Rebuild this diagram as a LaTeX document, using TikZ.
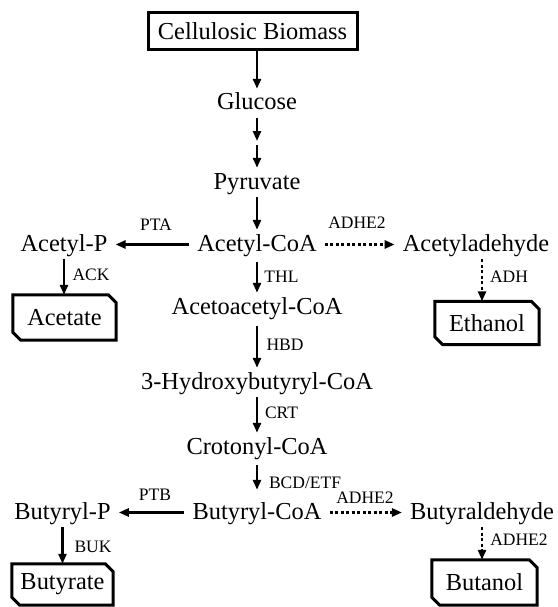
\documentclass[tikz,border=0pt]{standalone}
\usepackage{fontspec}
\setmainfont{Liberation Serif}
\usetikzlibrary{arrows.meta}
\newcommand\chamfbox[1]{\draw[boxline] (#1.north west) -- ([xshift=-8pt]#1.north east) -- ([yshift=-8pt]#1.north east) -- (#1.south east) -- ([xshift=8pt]#1.south west) -- ([yshift=8pt]#1.south west) -- cycle;}
\tikzset{
  met/.style={font=\fontsize{24.4pt}{28pt}\selectfont, inner xsep=8pt, inner ysep=1pt, text height=20pt, text depth=7pt},
  lbl/.style={font=\fontsize{17.5pt}{20pt}\selectfont, inner sep=0pt},
  arr/.style={line width=2.5pt, -{Triangle[length=10pt,width=8pt]}},
  dotarr/.style={arr, dash pattern=on 3pt off 2.5pt},
  prodbox/.style={font=\fontsize{24.4pt}{28pt}\selectfont, inner sep=0pt},
  boxline/.style={line width=3pt, line join=miter},
}
\begin{document}
\begin{tikzpicture}[x=1pt, y=-1pt]
\useasboundingbox (0,0) rectangle (557,607);
% source box
\node[prodbox, draw, line width=3pt, minimum width=209pt, minimum height=37pt] (bio) at (252.5,31.5) {Cellulosic Biomass};
% metabolites
\node[met] (glu) at (257,103.5) {Glucose};
\node[met] (pyr) at (257,182.5) {Pyruvate};
\node[met] (acoa) at (257,244.5) {Acetyl-CoA};
\node[met] (acp) at (64,244.5) {Acetyl-P};
\node[met] (ald) at (476,244.5) {Acetyladehyde};
\node[met] (acac) at (257,307.5) {Acetoacetyl-CoA};
\node[met] (hb) at (257,382.5) {3-Hydroxybutyryl-CoA};
\node[met] (crot) at (257,447.5) {Crotonyl-CoA};
\node[met] (bcoa) at (257,512.5) {Butyryl-CoA};
\node[met] (bp) at (62.5,512.5) {Butyryl-P};
\node[met] (bald) at (482,512.5) {Butyraldehyde};
% products
\node[prodbox, minimum width=103pt, minimum height=45pt] (ace) at (64.5,317.5) {Acetate};
\chamfbox{ace}
\node[prodbox, minimum width=104pt, minimum height=43pt] (eth) at (487,323) {Ethanol};
\chamfbox{eth}
\node[prodbox, minimum width=101pt, minimum height=41pt] (buty) at (62.5,584.5) {Butyrate};
\chamfbox{buty}
\node[prodbox, minimum width=105pt, minimum height=45pt] (buta) at (484.5,582.5) {Butanol};
\chamfbox{buta}
% coordinates between the two glucose arrows
\coordinate (gpa) at (257,141);
\coordinate (gpb) at (257,145);
% arrows
\draw[arr] (bio.south -| glu.north) -- (glu.north);
\draw[arr] (glu.south) -- (gpa);
\draw[arr] (gpb) -- (pyr.north);
\draw[arr] (pyr.south) -- (acoa.north);
\draw[arr] (acoa) -- (acp);
\draw[dotarr] (acoa) -- (ald);
\draw[arr, shorten <=3pt] (acoa.south) -- (acac.north);
\draw[arr, shorten <=4pt] (acac.south) -- (hb.north);
\draw[arr] (hb.south) -- (crot.north);
\draw[arr, shorten <=3pt, shorten >=8pt] (crot.south) -- (bcoa.north);
\draw[arr] (bcoa) -- (bp);
\draw[dotarr] (bcoa) -- (bald);
\draw[arr] (acp.south) -- (acp.south |- ace.north);
\draw[dotarr] ([xshift=6pt]ald.south) -- ([xshift=6pt]ald.south |- eth.north);
\draw[arr] (bp.south) -- (bp.south |- buty.north);
\draw[dotarr] (bald.south) -- (bald.south |- buta.north);
% enzyme labels
\node[lbl] (lpta) at (156,225) {PTA};
\node[lbl] (ladhe1) at (357,223) {ADHE2};
\node[lbl] (lack) at (91,275) {ACK};
\node[lbl] (lthl) at (281.5,277) {THL};
\node[lbl] (ladh) at (509,277) {ADH};
\node[lbl] (lhbd) at (285,345) {HBD};
\node[lbl] (lcrt) at (281.5,413) {CRT};
\node[lbl] (lbcd) at (305,483) {BCD/ETF};
\node[lbl] (lptb) at (155,495) {PTB};
\node[lbl] (ladhe2) at (365,498) {ADHE2};
\node[lbl] (lbuk) at (93,547) {BUK};
\node[lbl] (ladhe3) at (519,540) {ADHE2};
\end{tikzpicture}
\end{document}
